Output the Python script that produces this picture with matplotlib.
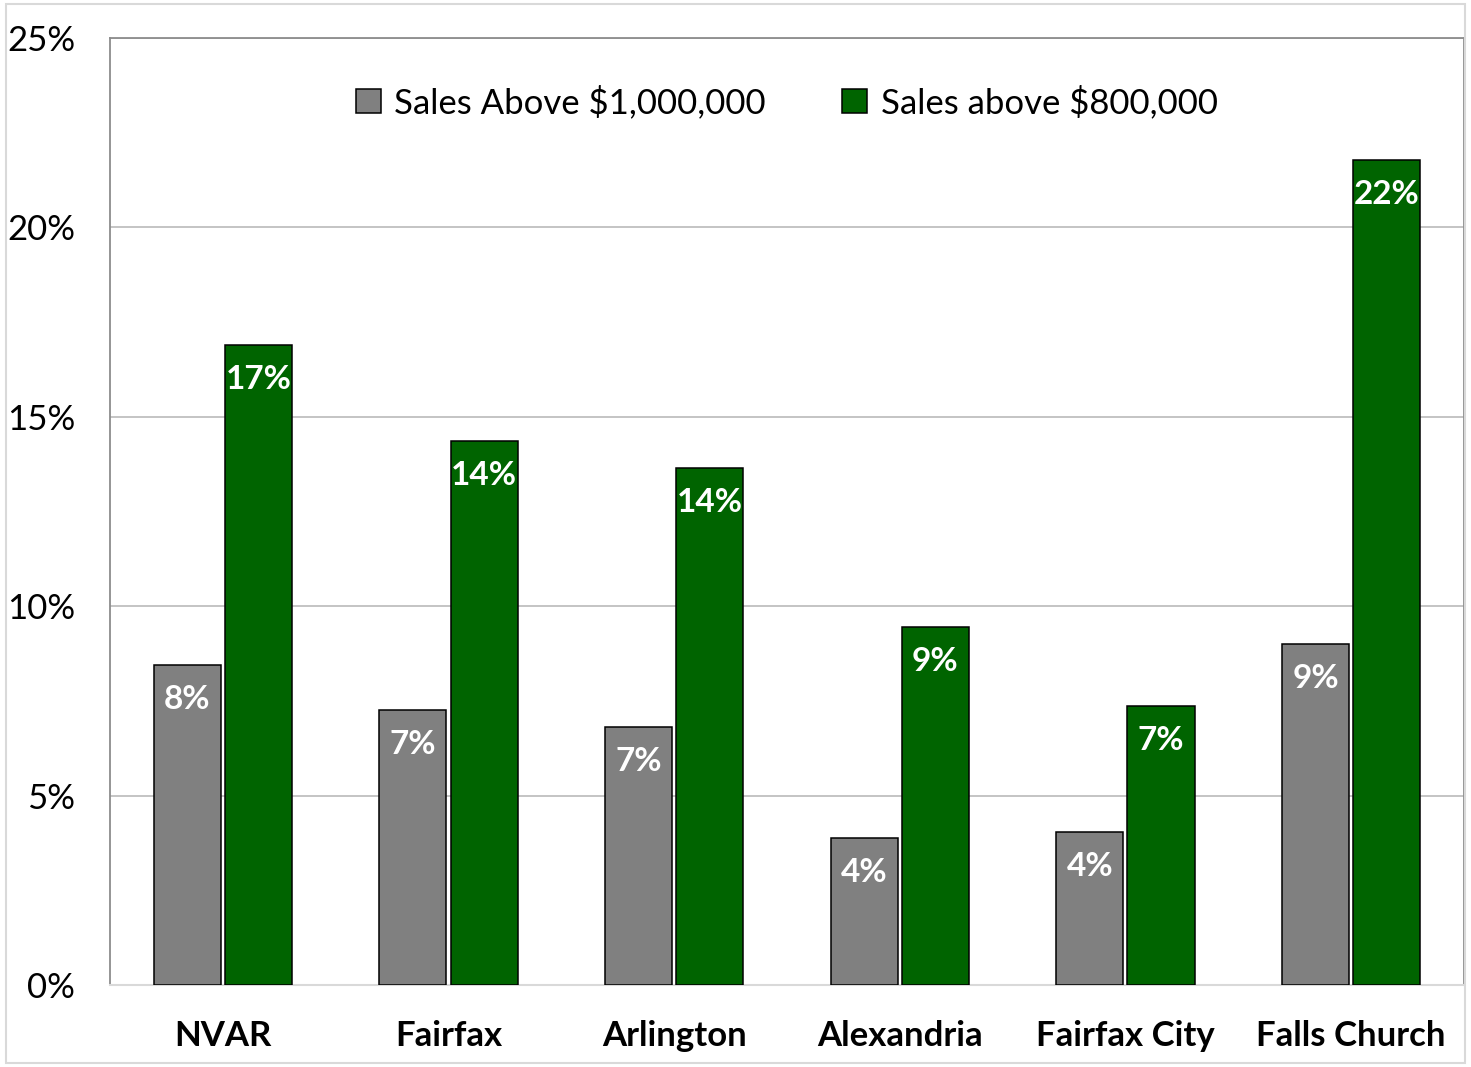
import matplotlib.pyplot as plt
import numpy as np

# Datos
regions = ['NVAR', 'Fairfax', 'Arlington', 'Alexandria', 'Fairfax City', 'Falls Church']
above_1m = [8.45, 7.26, 6.81, 3.88, 4.04, 9.0]
above_800k = [16.9, 14.36, 13.65, 9.45, 7.37, 21.78]
series_names = ['Sales Above $1,000,000', 'Sales above $800,000']
yticks = [0, 5, 10, 15, 20, 25]

plt.rcParams['font.family'] = ['Lato', 'DejaVu Sans']

fig = plt.figure(figsize=(14.71, 10.67), dpi=100)
ax = fig.add_axes([0.0748, 0.0769, 0.9204, 0.8875])

x = np.arange(len(regions))
w = 0.297
gap = 0.009
b1 = ax.bar(x - w/2 - gap, above_1m, w, color='#808080', edgecolor='black', linewidth=1.1,
            label=series_names[0], zorder=3)
b2 = ax.bar(x + w/2 + gap, above_800k, w, color='#006400', edgecolor='black', linewidth=1.1,
            label=series_names[1], zorder=3)

# Etiquetas de valor
for bars, vals in [(b1, above_1m), (b2, above_800k)]:
    for r, v in zip(bars, vals):
        ax.annotate(f'{round(v):.0f}%', (r.get_x() + r.get_width()/2, v),
                    xytext=(0, -25), textcoords='offset points', ha='center', va='center',
                    color='white', fontsize=24, fontweight='bold', zorder=4)

ax.set_xlim(-0.5, len(regions) - 0.5)
ax.set_ylim(0, 25)
ax.set_yticks(yticks)
ax.set_yticklabels([f'{t}%' for t in yticks], fontsize=25)
ax.set_xticks(x)
ax.set_xticklabels(regions, fontsize=25, fontweight='bold')
ax.tick_params(axis='both', length=0)
ax.tick_params(axis='y', pad=25)
ax.tick_params(axis='x', pad=25)
ax.grid(axis='y', color='#bfbfbf', linewidth=1.3, zorder=0)

for s in ['left', 'top', 'right']:
    ax.spines[s].set_color('#8c8c8c')
    ax.spines[s].set_linewidth(1.3)
ax.spines['bottom'].set_color('#d9d9d9')
ax.spines['bottom'].set_linewidth(1.5)

ax.legend(loc='upper center', ncol=2, frameon=False, fontsize=25, handlelength=0.7,
          handleheight=0.7, handletextpad=0.4, columnspacing=2.2, bbox_to_anchor=(0.5, 0.983))

# Borde exterior
fig.patches.append(plt.Rectangle((0.004, 0.004), 0.992, 0.992, transform=fig.transFigure,
                                 fill=False, edgecolor='#d9d9d9', linewidth=1.5))

fig.savefig('out.png', dpi=100)
